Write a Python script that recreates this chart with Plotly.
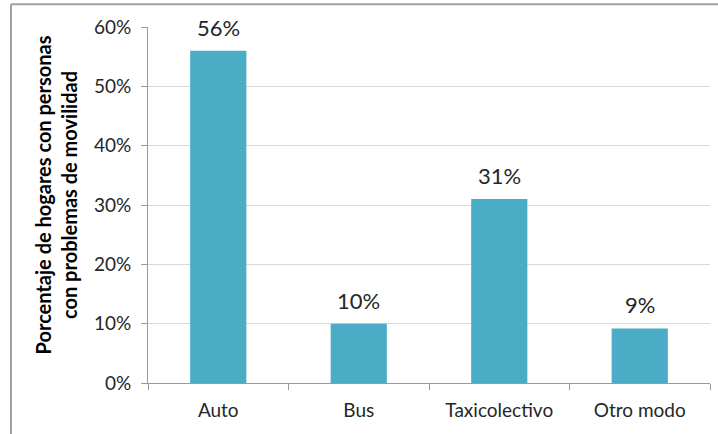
import plotly.graph_objects as go

categories = ["Auto", "Bus", "Taxicolectivo", "Otro modo"]
values = [0.56, 0.10, 0.31, 0.092]
value_labels = ["56%", "10%", "31%", "9%"]
y_ticks = [0, 0.1, 0.2, 0.3, 0.4, 0.5, 0.6]
y_tick_labels = ["0%", "10%", "20%", "30%", "40%", "50%", "60%"]
y_title = "Porcentaje de hogares con personas<br>con problemas de movilidad"

FONT = "Lato, Open Sans, sans-serif"
TXT = "#262626"

fig = go.Figure(go.Bar(
    x=categories, y=values,
    marker=dict(color="#4BACC6", line=dict(width=0)),
    hoverinfo="x+y",
))

for c, v, lab in zip(categories, values, value_labels):
    fig.add_annotation(x=c, y=v, text=lab, showarrow=False,
                       xanchor="center", yanchor="bottom", yshift=8,
                       font=dict(size=22, color=TXT, family=FONT))

fig.update_layout(
    template="none",
    width=718, height=434,
    margin=dict(l=148, r=8, t=27, b=51, autoexpand=False),
    paper_bgcolor="white", plot_bgcolor="white",
    bargap=0.6,
    showlegend=False,
    font=dict(family=FONT, size=19, color=TXT),
)
fig.update_yaxes(
    automargin=False,
    range=[0, 0.6], tickvals=y_ticks, ticktext=y_tick_labels,
    showgrid=True, gridcolor="#d9d9d9", gridwidth=1,
    showline=True, linecolor="#9a9a9a", linewidth=1,
    ticks="outside", ticklen=6, tickcolor="#9a9a9a",
    ticklabelstandoff=6,
    zeroline=False, tickfont=dict(size=19, color=TXT),
)
fig.update_xaxes(
    automargin=False,
    showline=True, linecolor="#9a9a9a", linewidth=1,
    showgrid=False,
    ticks="outside", ticklen=6, tickcolor="#9a9a9a",
    ticklabelstandoff=10,
    tickson="boundaries", tickfont=dict(size=19, color=TXT),
)

fig.add_annotation(
    text=y_title, textangle=-90, xref="paper", yref="paper",
    x=-0.163, y=0.528, showarrow=False, xanchor="center", yanchor="middle",
    font=dict(size=20, color="black", family=FONT, weight="bold"),
)

# chart border (top and left visible)
fig.add_shape(type="line", xref="paper", yref="paper",
              x0=-0.2438, x1=1.02, y0=1.0637, y1=1.0637,
              line=dict(color="#a0a0a0", width=2))
fig.add_shape(type="line", xref="paper", yref="paper",
              x0=-0.2438, x1=-0.2438, y0=1.0637, y1=-0.15,
              line=dict(color="#a0a0a0", width=2))

fig.write_html("out.html", config={"displayModeBar": False},
               post_script="document.body.style.margin='0';")
